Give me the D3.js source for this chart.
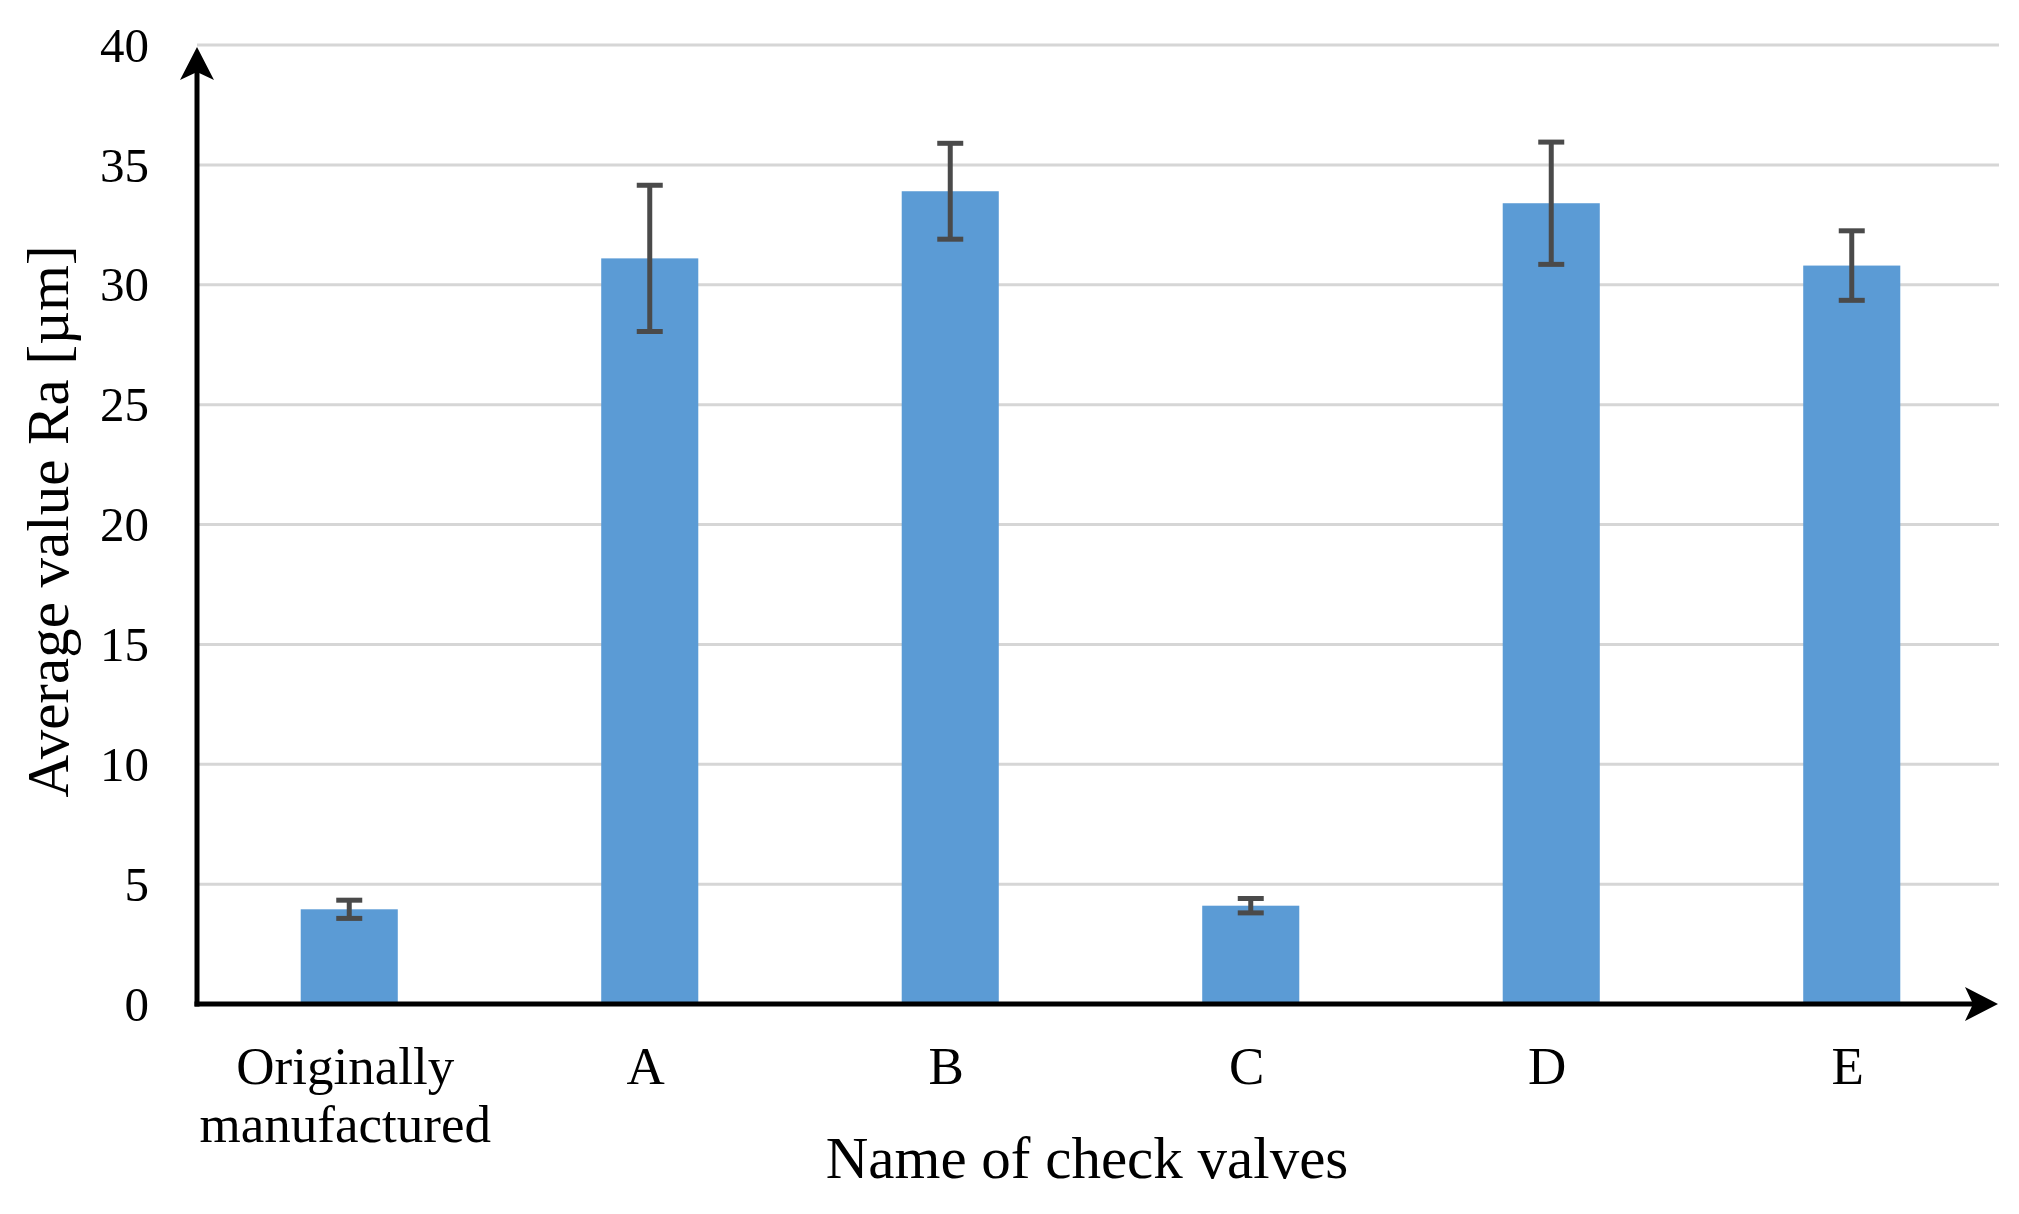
<!DOCTYPE html>
<html>
<head>
<meta charset="utf-8">
<script src="https://cdn.jsdelivr.net/npm/d3@7"></script>
<style>
  html, body { margin: 0; padding: 0; background: #fff; }
  svg { display: block; }
  text { font-family: "Liberation Serif", "Times New Roman", serif; fill: #000; }
</style>
</head>
<body>
<script>
// ---- data ----
const categories = ["Originally\nmanufactured", "A", "B", "C", "D", "E"];
const values = [3.95, 31.1, 33.9, 4.1, 33.4, 30.8];
const errors = [0.38, 3.05, 2.0, 0.3, 2.55, 1.45];
const yTicks = [0, 5, 10, 15, 20, 25, 30, 35, 40];
const xTitle = "Name of check valves";
const yTitle = "Average value Ra [µm]";

(function () {
// ---- layout ----
const W = 2019, H = 1214;
const mLeft = 197, mRight = 1997, mTop = 45, mBottom = 1004;

const svg = d3.select("body").append("svg").attr("width", W).attr("height", H);

const x = d3.scaleBand().domain(categories).range([mLeft + 2, mRight + 5])
  .paddingInner(0.677).paddingOuter(0.3385);
const y = d3.scaleLinear().domain([0, 40]).range([mBottom, mTop]);

// gridlines
svg.append("g").selectAll("line").data(yTicks.filter(d => d > 0)).join("line")
  .attr("x1", mLeft).attr("x2", mRight + 2)
  .attr("y1", d => y(d)).attr("y2", d => y(d))
  .attr("stroke", "#d6d6d6").attr("stroke-width", 3);

// bars
svg.append("g").selectAll("rect").data(values).join("rect")
  .attr("x", (d, i) => x(categories[i]))
  .attr("width", x.bandwidth())
  .attr("y", d => y(d))
  .attr("height", d => y(0) - y(d))
  .attr("fill", "#5B9BD5");

// error bars
const eg = svg.append("g").attr("stroke", "#4a4a4a").attr("stroke-width", 5);
values.forEach((v, i) => {
  const cx = x(categories[i]) + x.bandwidth() / 2;
  const hi = y(v + errors[i]), lo = y(v - errors[i]);
  eg.append("line").attr("x1", cx).attr("x2", cx).attr("y1", hi).attr("y2", lo);
  eg.append("line").attr("x1", cx - 13).attr("x2", cx + 13).attr("y1", hi).attr("y2", hi);
  eg.append("line").attr("x1", cx - 13).attr("x2", cx + 13).attr("y1", lo).attr("y2", lo);
});

// y tick labels
svg.append("g").selectAll("text").data(yTicks).join("text")
  .attr("x", 149).attr("y", d => y(d))
  .attr("dy", "0.34em")
  .attr("text-anchor", "end")
  .attr("font-size", 49)
  .text(d => d);

// category labels
const cl = svg.append("g");
categories.forEach(c => {
  const cx = x(c) + x.bandwidth() / 2;
  const lines = c.split("\n");
  const t = cl.append("text").attr("text-anchor", "middle").attr("font-size", 53);
  lines.forEach((ln, j) => {
    t.append("tspan").attr("x", cx - 4).attr("y", 1084 + j * 58).text(ln);
  });
});

// axes lines
const axisG = svg.append("g");
axisG.append("line").attr("x1", mLeft).attr("x2", mLeft).attr("y1", mBottom + 2.5).attr("y2", mTop + 12)
  .attr("stroke", "#000").attr("stroke-width", 5);
axisG.append("line").attr("x1", mLeft - 2.5).attr("x2", mRight - 10).attr("y1", mBottom).attr("y2", mBottom)
  .attr("stroke", "#000").attr("stroke-width", 5);
// arrowheads
const yTip = mTop + 2, xTip = mRight + 1;
axisG.append("path")
  .attr("d", `M${mLeft},${yTip} L${mLeft + 17},${yTip + 33} L${mLeft},${yTip + 25} L${mLeft - 17},${yTip + 33} Z`)
  .attr("fill", "#000");
axisG.append("path")
  .attr("d", `M${xTip},${mBottom} L${xTip - 33},${mBottom - 17} L${xTip - 25},${mBottom} L${xTip - 33},${mBottom + 17} Z`)
  .attr("fill", "#000");

// titles
svg.append("text").attr("x", 1087).attr("y", 1178)
  .attr("text-anchor", "middle").attr("font-size", 59).text(xTitle);
svg.append("text")
  .attr("transform", `translate(68, ${(mTop + mBottom) / 2 - 3}) rotate(-90)`)
  .attr("text-anchor", "middle").attr("font-size", 59).text(yTitle);
})();
</script>
</body>
</html>
